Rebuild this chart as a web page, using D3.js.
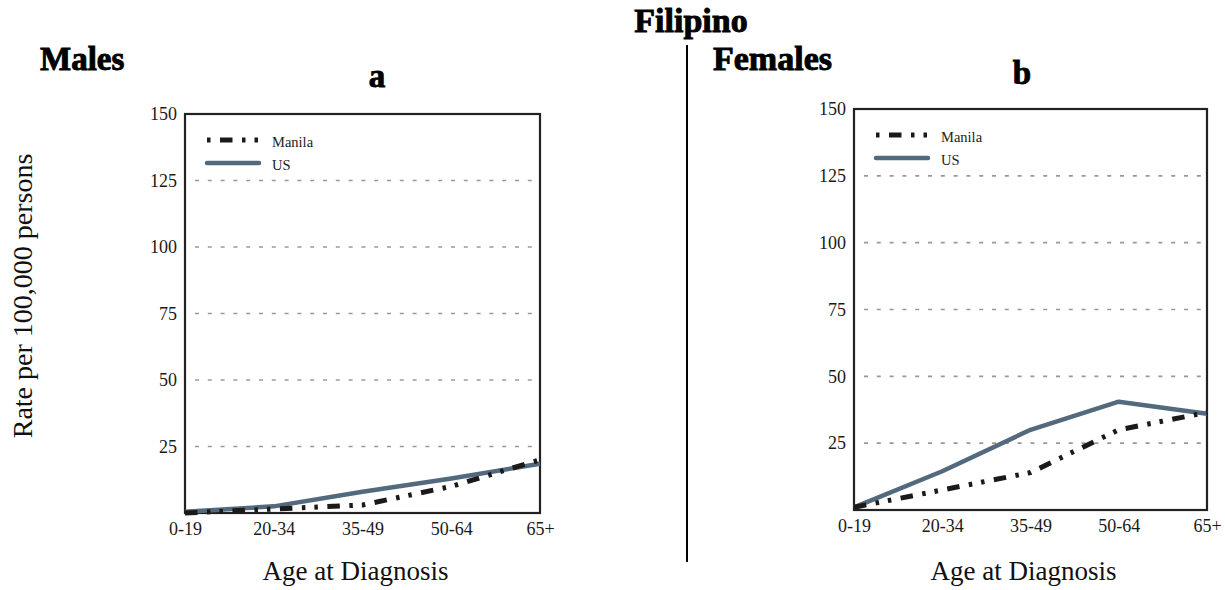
<!DOCTYPE html>
<html>
<head>
<meta charset="utf-8">
<script src="https://cdn.jsdelivr.net/npm/d3@7"></script>
<style>
  body { margin: 0; background: #fff; }
  svg { display: block; }
</style>
</head>
<body>
<svg id="chart"></svg>
<script>
// data
const ageGroups = ["0-19", "20-34", "35-49", "50-64", "65+"];
const yTicks = [25, 50, 75, 100, 125, 150];
const maleManila = [0, 1.5, 3, 10, 20];
const maleUS = [0.5, 2.5, 8, 13, 18.5];
const femaleManila = [1, 7.5, 14, 30, 36.5];
const femaleUS = [1, 14.5, 30, 40.5, 36];
const seriesNames = ["Manila", "US"];

const width = 1225, height = 590;
const svg = d3.select('#chart').attr('width', width).attr('height', height);

const serif = "'Liberation Serif', 'Times New Roman', serif";
const manilaDash = "12.5,9.5,3.5,9,3.5,9.5";
const usColor = "#536a7e";

//Titles
const title = (x, y, txt, size, anchor) => svg.append('text')
    .attr('x', x).attr('y', y)
    .attr('text-anchor', anchor)
    .style('font-family', serif)
    .style('font-weight', 'bold')
    .style('font-size', size + 'px')
    .attr('stroke', '#000').attr('stroke-width', 0.9)
    .attr('fill', '#000')
    .text(txt);

title(691, 32, "Filipino", 34, 'middle');
title(40, 70, "Males", 33, 'start');
title(713, 70, "Females", 34, 'start');
title(377, 87, "a", 33, 'middle');
title(1022, 84, "b", 33, 'middle');

//Divider between panels
svg.append('line')
    .attr('x1', 687).attr('x2', 687).attr('y1', 45).attr('y2', 562)
    .attr('stroke', '#000').attr('stroke-width', 2);

//Y axis title
svg.append('text')
    .attr('transform', 'translate(32,296) rotate(-90)')
    .attr('text-anchor', 'middle')
    .style('font-family', serif)
    .style('font-size', '28px')
    .attr('fill', '#111')
    .text("Rate per 100,000 persons");

const panels = [
    { box: [185, 540, 114, 513], manila: maleManila, us: maleUS },
    { box: [854, 1207, 109, 510], manila: femaleManila, us: femaleUS }
];

panels.forEach(p => {
    const [x0, x1, y0, y1] = p.box;
    const g = svg.append('g').attr('transform', `translate(${x0},${y0})`);
    const innerWidth = x1 - x0;
    const innerHeight = y1 - y0;

    const xScale = d3.scalePoint().domain(ageGroups).range([0, innerWidth]);
    const yScale = d3.scaleLinear().domain([0, 150]).range([innerHeight, 0]);

    //grid lines (dotted)
    g.selectAll('.grid').data(yTicks.filter(t => t < 150)).enter().append('line')
        .attr('class', 'grid')
        .attr('x1', 10).attr('x2', innerWidth - 2)
        .attr('y1', d => yScale(d)).attr('y2', d => yScale(d))
        .attr('stroke', '#999').attr('stroke-width', 1.7)
        .attr('stroke-dasharray', '4,8.8');

    //axes
    const yAxis = d3.axisLeft(yScale).tickValues(yTicks).tickSize(0).tickPadding(8);
    const gy = g.append('g').call(yAxis);
    const xAxis = d3.axisBottom(xScale).tickSize(0).tickPadding(9);
    const gx = g.append('g').attr('transform', `translate(0,${innerHeight})`).call(xAxis);
    [gy, gx].forEach(a => {
        a.select('.domain').remove();
        a.selectAll('text')
            .style('font-family', serif)
            .style('font-size', '18px')
            .attr('fill', '#1a1a1a');
    });
    gx.selectAll('text').attr('dy', '0.72em');

    //frame
    g.append('rect')
        .attr('width', innerWidth).attr('height', innerHeight)
        .attr('fill', 'none').attr('stroke', '#222').attr('stroke-width', 2.2);

    //lines
    const line = d3.line()
        .x((d, i) => xScale(ageGroups[i]))
        .y(d => yScale(d));

    g.append('path').datum(p.us)
        .attr('d', line)
        .attr('fill', 'none').attr('stroke', usColor).attr('stroke-width', 4.5)
        .attr('stroke-linejoin', 'round');
    g.append('path').datum(p.manila)
        .attr('d', line)
        .attr('fill', 'none').attr('stroke', '#1a1a1a').attr('stroke-width', 5)
        .attr('stroke-dasharray', manilaDash);

    //legend
    const legend = g.append('g').attr('transform', 'translate(22,26)');
    seriesNames.forEach((name, i) => {
        const ly = i * 23;
        legend.append('line')
            .attr('x1', 0).attr('x2', 52).attr('y1', ly).attr('y2', ly)
            .attr('stroke', i === 0 ? '#1a1a1a' : usColor)
            .attr('stroke-width', i === 0 ? 5 : 4.5)
            .attr('stroke-linecap', i === 0 ? 'butt' : 'round')
            .attr('stroke-dasharray', i === 0 ? manilaDash : null)
            .attr('stroke-dashoffset', i === 0 ? 34.5 : null);
        legend.append('text')
            .attr('x', 65).attr('y', ly + 2).attr('dy', '0.35em')
            .style('font-family', serif)
            .style('font-size', '14.5px')
            .attr('fill', '#222')
            .text(name);
    });

    //x axis title
    svg.append('text')
        .attr('x', x0 + innerWidth / 2 - 7).attr('y', 580)
        .attr('text-anchor', 'middle')
        .style('font-family', serif)
        .style('font-size', '27px')
        .attr('fill', '#111')
        .text("Age at Diagnosis");
});
</script>
</body>
</html>
